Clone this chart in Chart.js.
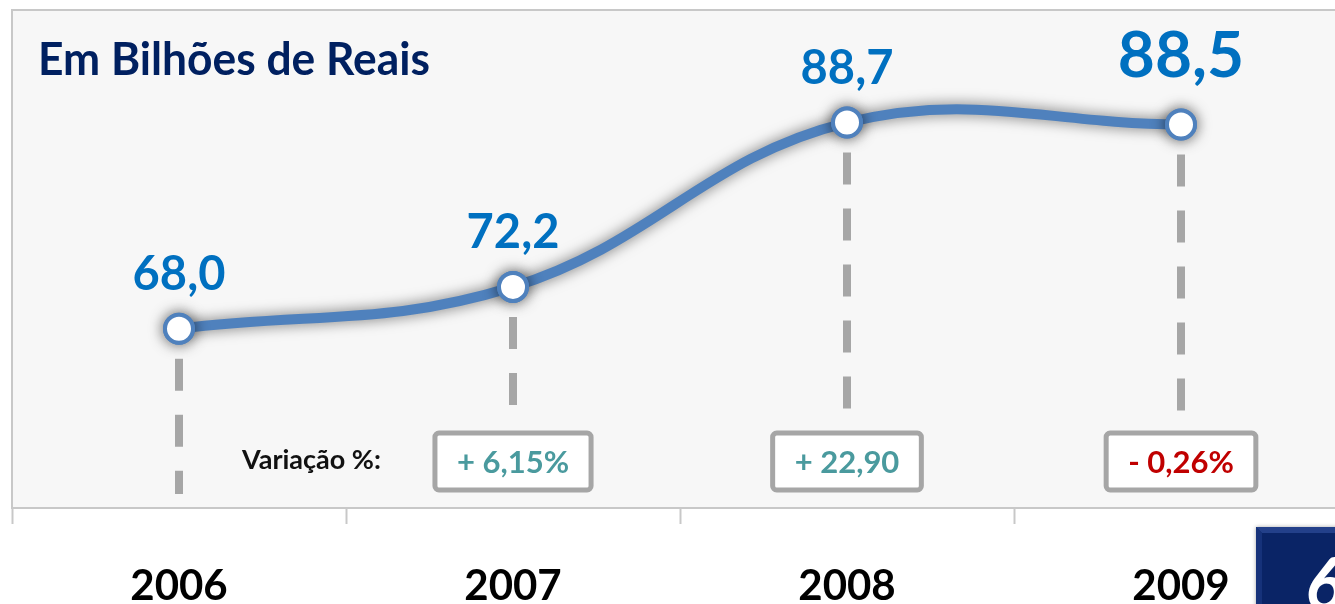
<!DOCTYPE html>
<html lang="pt-BR">
<head>
<meta charset="utf-8">
<title>Em Bilhões de Reais</title>
<script src="https://cdn.jsdelivr.net/npm/chart.js@4/dist/chart.umd.min.js"></script>
<style>
    html, body { margin: 0; padding: 0; background: #fff; overflow: hidden; }
    #wrap { width: 1350px; height: 604px; }
</style>
</head>
<body>
<div id="wrap"><canvas id="receitaChart" width="1350" height="604"></canvas></div>
<script>
// anos e receita (bilhões de R$)
const anos = ['2006', '2007', '2008', '2009'];
const receita = [68.0, 72.2, 88.7, 88.5];
// variação sobre o ano anterior; o segundo rótulo vem sem o sinal de %
const variacao = [null, 6.15, 22.90, -0.26];
const variacaoSufixo = ['', '%', '', '%'];

const FONT = 'Lato, "Open Sans", sans-serif';
const AZUL_LINHA = '#4f81bd';
const AZUL_TEXTO = '#0070c0';
const CINZA = '#a6a6a6';

function fmtValor(v) {
    return v.toFixed(1).replace('.', ',');
}

function fmtVariacao(v, i) {
    const sinal = v < 0 ? '- ' : '+ ';
    return sinal + Math.abs(v).toFixed(2).replace('.', ',') + variacaoSufixo[i];
}

function roundRect(ctx, x, y, w, h, r) {
    ctx.beginPath();
    ctx.moveTo(x + r, y);
    ctx.arcTo(x + w, y, x + w, y + h, r);
    ctx.arcTo(x + w, y + h, x, y + h, r);
    ctx.arcTo(x, y + h, x, y, r);
    ctx.arcTo(x, y, x + w, y, r);
    ctx.closePath();
}

// fundo cinza claro, moldura e título
const moldura = {
    id: 'moldura',
    beforeDraw(chart) {
        const { ctx, chartArea: a } = chart;
        ctx.save();
        ctx.fillStyle = '#f7f7f7';
        ctx.fillRect(a.left, a.top, a.right - a.left, a.bottom - a.top);
        ctx.strokeStyle = '#c8c8c8';
        ctx.lineWidth = 2;
        ctx.beginPath();
        ctx.moveTo(a.left, a.bottom);
        ctx.lineTo(a.left, a.top);
        ctx.lineTo(a.right, a.top);
        ctx.stroke();

        ctx.fillStyle = '#002060';
        ctx.font = 'bold 45px ' + FONT;
        ctx.textBaseline = 'alphabetic';
        ctx.fillText('Em Bilhões de Reais', 38, 75, 392);
        ctx.restore();
    },
    // linhas tracejadas verticais, por baixo da curva
    beforeDatasetsDraw(chart) {
        const { ctx, chartArea: a } = chart;
        const pts = chart.getDatasetMeta(0).data;
        ctx.save();
        ctx.strokeStyle = CINZA;
        ctx.lineWidth = 8;
        ctx.setLineDash([32, 24]);
        pts.forEach((p, i) => {
            const fim = variacao[i] === null ? a.bottom - 14 : 416;
            ctx.beginPath();
            ctx.moveTo(p.x, p.y + 30);
            ctx.lineTo(p.x, fim);
            ctx.stroke();
        });
        ctx.restore();
    }
};

// sombra difusa na linha; os marcadores são redesenhados limpos por cima
const sombra = {
    id: 'sombra',
    beforeDatasetDraw(chart) {
        const ctx = chart.ctx;
        ctx.save();
        ctx.shadowColor = 'rgba(0,0,0,0.55)';
        ctx.shadowBlur = 14;
        ctx.shadowOffsetX = 0;
        ctx.shadowOffsetY = 0;
    },
    afterDatasetDraw(chart, args) {
        const ctx = chart.ctx;
        ctx.restore();
        args.meta.data.forEach(pt => pt.draw(ctx, chart.chartArea));
    }
};

// rótulos de valor e caixas de variação
const rotulos = {
    id: 'rotulos',
    afterDatasetsDraw(chart) {
        const { ctx } = chart;
        const pts = chart.getDatasetMeta(0).data;
        ctx.save();
        ctx.textAlign = 'center';
        ctx.textBaseline = 'alphabetic';
        pts.forEach((p, i) => {
            const ultimo = i === receita.length - 1;
            ctx.fillStyle = AZUL_TEXTO;
            ctx.font = (ultimo ? 'bold 64px ' : 'bold 47px ') + FONT;
            ctx.fillText(fmtValor(receita[i]), p.x, p.y - (ultimo ? 48 : 39));

            if (variacao[i] === null) return;
            const txt = fmtVariacao(variacao[i], i);
            ctx.font = 'bold 31px ' + FONT;
            const w = ctx.measureText(txt).width + 44;
            const h = 57;
            const y0 = 433;
            ctx.fillStyle = '#ffffff';
            ctx.strokeStyle = CINZA;
            ctx.lineWidth = 5;
            roundRect(ctx, p.x - w / 2, y0, w, h, 4);
            ctx.fill();
            ctx.stroke();
            ctx.fillStyle = variacao[i] < 0 ? '#c00000' : '#4a9a9e';
            ctx.fillText(txt, p.x, 473);
        });

        ctx.textAlign = 'left';
        ctx.fillStyle = '#111111';
        ctx.font = 'bold 27px ' + FONT;
        ctx.fillText('Variação %:', 242, 469, 141);
        ctx.restore();
    },
    // quadro azul do número da página
    afterDraw(chart) {
        const ctx = chart.ctx;
        ctx.save();
        const x = 1256, y = 527, w = 120, h = 90, b = 6;
        ctx.shadowColor = 'rgba(0,0,0,0.35)';
        ctx.shadowBlur = 4;
        ctx.fillStyle = '#0a2466';
        ctx.fillRect(x, y, w, h);
        ctx.shadowColor = 'transparent';
        // bordas chanfradas
        ctx.fillStyle = '#23408a';
        ctx.beginPath();
        ctx.moveTo(x, y);
        ctx.lineTo(x + w, y);
        ctx.lineTo(x + w, y + b);
        ctx.lineTo(x + b, y + b);
        ctx.closePath();
        ctx.fill();
        ctx.fillStyle = '#16327a';
        ctx.beginPath();
        ctx.moveTo(x, y);
        ctx.lineTo(x + b, y + b);
        ctx.lineTo(x + b, y + h);
        ctx.lineTo(x, y + h);
        ctx.closePath();
        ctx.fill();
        ctx.fillStyle = '#ffffff';
        ctx.font = 'italic bold 72px ' + FONT;
        ctx.textAlign = 'left';
        ctx.fillText('6', 1305, 610);
        ctx.restore();
    }
};

new Chart(document.getElementById('receitaChart'), {
    type: 'line',
    data: {
        labels: anos,
        datasets: [{
            data: receita,
            borderColor: AZUL_LINHA,
            borderWidth: 10,
            tension: 0.4,
            fill: false,
            pointRadius: 14,
            pointBorderWidth: 4,
            pointBackgroundColor: '#ffffff',
            pointBorderColor: AZUL_LINHA,
            clip: false
        }]
    },
    options: {
        responsive: false,
        animation: false,
        layout: { autoPadding: false, padding: { left: 12, top: 10, right: 2, bottom: 0 } },
        plugins: {
            legend: { display: false },
            tooltip: { enabled: false }
        },
        scales: {
            x: {
                offset: true,
                grid: {
                    offset: true,
                    drawOnChartArea: false,
                    drawTicks: true,
                    tickLength: 16,
                    tickColor: '#c8c8c8',
                    tickWidth: 2
                },
                border: { display: true, color: '#c8c8c8', width: 2 },
                ticks: {
                    color: '#000000',
                    font: { family: FONT, size: 42, weight: 'bold' },
                    padding: 37,
                    maxRotation: 0
                },
                afterFit(scale) { scale.height = 96; }
            },
            y: {
                display: false,
                min: 50,
                max: 100
            }
        }
    },
    plugins: [moldura, sombra, rotulos]
});
</script>
</body>
</html>
